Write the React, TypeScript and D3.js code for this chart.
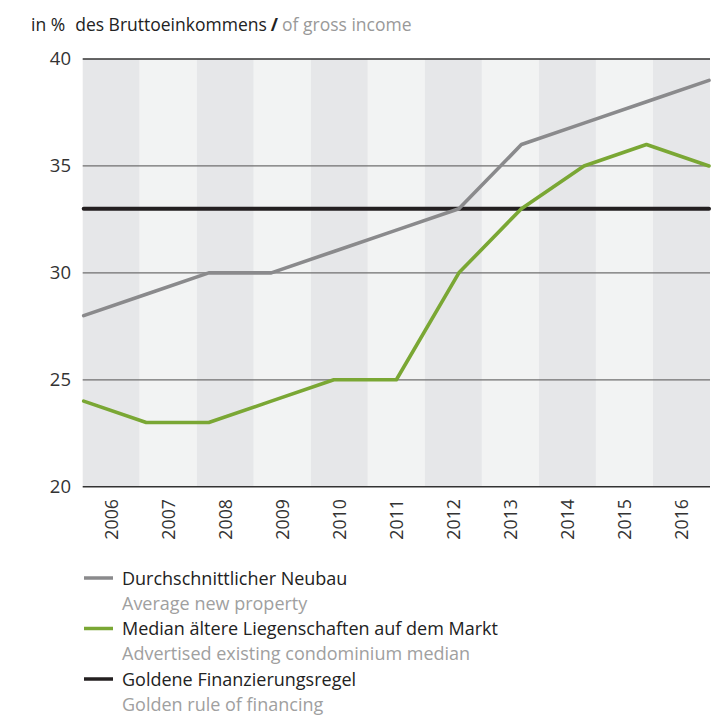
import React from "react";
import * as d3 from "d3";

const years = ["2006","2007","2008","2009","2010","2011","2012","2013","2014","2015","2016"];
const neubau = [28, 29, 30, 30, 31, 32, 33, 36, 37, 38, 39];
const median = [24, 23, 23, 24, 25, 25, 30, 33, 35, 36, 35];
const golden = [33, 33, 33, 33, 33, 33, 33, 33, 33, 33, 33];
const yTicks = [20, 25, 30, 35, 40];

const legendItems = [
  { de: "Durchschnittlicher Neubau", en: "Average new property", color: "#8a8a8c" },
  { de: "Median ältere Liegenschaften auf dem Markt", en: "Advertised existing condominium median", color: "#7aa734" },
  { de: "Goldene Finanzierungsregel", en: "Golden rule of financing", color: "#231f20" },
];

const FONT = "'Open Sans', 'Noto Sans', sans-serif";

export default function App() {
  const left = 82.7, right = 710, top = 59, bottom = 486.7;
  const xBand = d3.scaleBand<string>().domain(years).range([left, right]).padding(0);
  const xPt = d3.scalePoint<string>().domain(years).range([left + 1, right - 1]);
  const y = d3.scaleLinear().domain([20, 40]).range([bottom, top]);
  const line = d3.line<number>().x((_, i) => xPt(years[i]) as number).y((d) => y(d));

  const series = [
    { vals: golden, color: "#231f20", w: 4 },
    { vals: neubau, color: "#8a8a8c", w: 3.6 },
    { vals: median, color: "#7aa734", w: 3.6 },
  ];

  return (
    <svg width={716} height={717} style={{ position: "absolute", left: 0, top: 0, fontFamily: FONT }}>
      <text x={31} y={31} fontSize={17.5} fill="#222">
        <tspan>in %</tspan>
        <tspan dx={10}>des Bruttoeinkommens</tspan>
        <tspan dx={4} fontWeight="bold">/</tspan>
        <tspan dx={4} fill="#999">of gross income</tspan>
      </text>

      {years.map((yr, i) => (
        <rect key={yr} x={xBand(yr)} y={top} width={xBand.bandwidth()} height={bottom - top}
          fill={i % 2 === 0 ? "#e6e7e9" : "#f2f3f3"} />
      ))}

      {yTicks.map((t) => (
        <g key={t}>
          {t !== 20 && (
            <line x1={left} x2={right} y1={y(t)} y2={y(t)}
              stroke={t === 40 ? "#333" : "#6f6f6f"} strokeWidth={t === 40 ? 1.4 : 1.3} />
          )}
          <text x={71} y={y(t)} dy="0.35em" textAnchor="end" fontSize={18.5} fill="#333">{t}</text>
        </g>
      ))}

      {series.map((s, i) => (
        <path key={i} d={line(s.vals) || ""} fill="none" stroke={s.color} strokeWidth={s.w}
          strokeLinejoin="round" strokeLinecap="round" />
      ))}

      <line x1={left} x2={right} y1={bottom} y2={bottom} stroke="#333" strokeWidth={1.6} />

      {years.map((yr) => {
        const cx = (xBand(yr) as number) + xBand.bandwidth() / 2;
        return (
          <text key={yr} transform={`translate(${cx + 6.5},${499}) rotate(-90)`} textAnchor="end"
            fontSize={17.8} fill="#333">{yr}</text>
        );
      })}

      {legendItems.map((it, i) => {
        const ly = 578 + i * 50.5;
        return (
          <g key={i}>
            <line x1={84} x2={113} y1={ly} y2={ly} stroke={it.color} strokeWidth={3.5} />
            <text x={122} y={ly + 6.5} fontSize={18} fill="#222">{it.de}</text>
            <text x={122} y={ly + 31.5} fontSize={18} fill="#a0a0a0">{it.en}</text>
          </g>
        );
      })}
    </svg>
  );
}
